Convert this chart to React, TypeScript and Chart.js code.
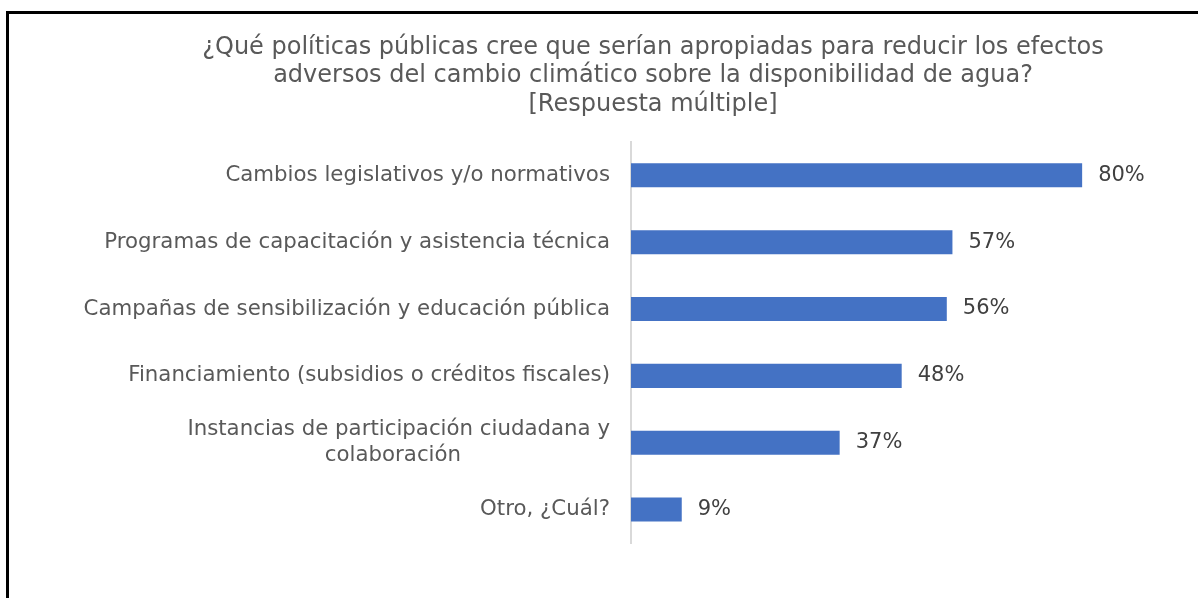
import React, { useEffect, useRef } from "react";
import { Chart, registerables } from "chart.js";

Chart.register(...registerables);

const TITLE_LINES = [
  "¿Qué políticas públicas cree que serían apropiadas para reducir los efectos",
  "adversos del cambio climático sobre la disponibilidad de agua?",
  "[Respuesta múltiple]",
];

const CATEGORIES: (string | string[])[] = [
  "Cambios legislativos y/o normativos",
  "Programas de capacitación y asistencia técnica",
  "Campañas de sensibilización y educación pública",
  "Financiamiento (subsidios o créditos fiscales)",
  ["Instancias de participación ciudadana y", "colaboración"],
  "Otro, ¿Cuál?",
];

const VALUES = [80, 57, 56, 48, 37, 9];

const X_MAX = 118.1;

const FONT = "'DejaVu Sans', Verdana, sans-serif";
const TICK_SIZE = 21.3;

// Centre the shorter lines under the longest one (right-aligned ticks).
function centerLines(lines: string[], size: number): string[] {
  const c = document.createElement("canvas").getContext("2d")!;
  c.font = `${size}px ${FONT}`;
  const widths = lines.map((l) => c.measureText(l).width);
  const maxW = Math.max(...widths);
  return lines.map((l, i) => {
    const target = widths[i] + (maxW - widths[i]) / 2 + 8;
    let s = l;
    while (widths[i] < maxW && c.measureText(s + " ").width <= target) s += " ";
    return s;
  });
}

const valueLabels = {
  id: "valueLabels",
  afterDatasetsDraw(chart: any) {
    const ctx = chart.ctx;
    const meta = chart.getDatasetMeta(0);
    ctx.save();
    ctx.font = `21px ${FONT}`;
    ctx.fillStyle = "#404040";
    ctx.textAlign = "left";
    ctx.textBaseline = "middle";
    meta.data.forEach((bar: any, i: number) => {
      ctx.fillText(`${VALUES[i]}%`, bar.x + 16, bar.y);
    });
    ctx.restore();
  },
};

export default function App() {
  const ref = useRef<HTMLCanvasElement>(null);

  useEffect(() => {
    const labels = CATEGORIES.map((c) =>
      Array.isArray(c) ? centerLines(c, TICK_SIZE) : c
    );
    const chart = new Chart(ref.current!, {
      type: "bar",
      data: {
        labels,
        datasets: [
          {
            data: VALUES,
            backgroundColor: "#4472C4",
            borderWidth: 0,
            categoryPercentage: 1,
            barPercentage: 0.36,
          },
        ],
      },
      plugins: [valueLabels],
      options: {
        indexAxis: "y",
        animation: false,
        responsive: false,
        maintainAspectRatio: false,
        layout: { padding: { left: 0, right: 0, top: 0, bottom: 46 } },
        plugins: {
          legend: { display: false },
          tooltip: { enabled: false },
          title: {
            display: true,
            text: TITLE_LINES,
            color: "#595959",
            font: { family: FONT, size: 24, weight: "normal", lineHeight: 1.2 },
            padding: { top: 19, bottom: 22.5 },
          },
        },
        scales: {
          x: {
            display: false,
            min: 0,
            max: X_MAX,
          },
          y: {
            grid: { display: false, drawTicks: false },
            border: { display: true, color: "#d9d9d9", width: 2 },
            ticks: {
              color: "#595959",
              font: { family: FONT, size: TICK_SIZE },
              padding: 21,
            },
            afterFit(scale: any) {
              scale.width = 622;
            },
          },
        },
      },
    });
    return () => chart.destroy();
  }, []);

  return (
    <div
      style={{
        position: "fixed",
        left: 6,
        top: 11,
        width: 1192,
        height: 587,
        overflow: "hidden",
      }}
    >
      <div
        style={{
          borderLeft: "3px solid #000",
          borderTop: "3px solid #000",
          width: 1400,
          height: 700,
          background: "#fff",
        }}
      >
        <canvas ref={ref} width={1288} height={575} style={{ display: "block" }} />
      </div>
    </div>
  );
}
